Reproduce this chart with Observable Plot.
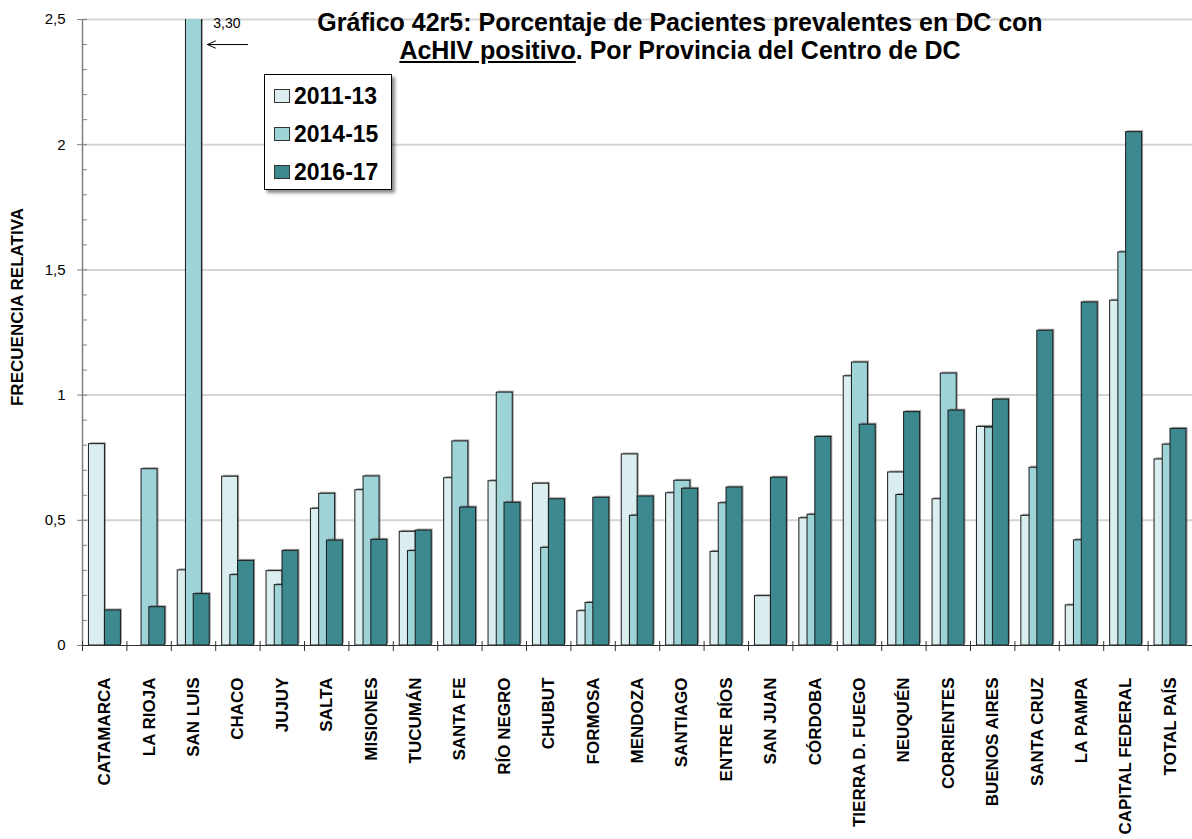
<!DOCTYPE html>
<html><head><meta charset="utf-8">
<script src="https://cdn.jsdelivr.net/npm/d3@7"></script>
<script src="https://cdn.jsdelivr.net/npm/@observablehq/plot@0.6"></script>
<style>
body{margin:0;background:#fff;font-family:"Liberation Sans",Arial,sans-serif;}
#wrap{position:relative;width:1192px;height:839px;overflow:hidden;background:#fff;}
#title{position:absolute;left:230px;width:900px;top:8px;text-align:center;font-weight:bold;font-size:25px;line-height:28px;color:#000;}
#ylabel{position:absolute;left:-132px;top:297px;width:300px;height:20px;line-height:20px;text-align:center;font-weight:bold;font-size:17px;transform:rotate(-90deg);color:#000;}
#legend{position:absolute;left:264px;top:74px;width:126px;height:114px;border:1px solid #000;background:#fff;box-shadow:3px 3px 3px rgba(0,0,0,0.45);}
.item{position:absolute;left:9px;height:28px;line-height:28px;font-weight:bold;font-size:23px;white-space:nowrap;}
.sw{display:inline-block;width:14px;height:12px;border:1px solid #333;vertical-align:middle;margin-right:4px;position:relative;top:-2px;}
</style></head>
<body>
<div id="wrap">
  <div id="chart"></div>
  <div id="title">Gráfico 42r5: Porcentaje de Pacientes prevalentes en DC con<br><u>AcHIV positivo</u>. Por Provincia del Centro de DC</div>
  <div id="ylabel">FRECUENCIA RELATIVA</div>
  <div id="legend"></div>
</div>
<script>
const provinces = ["CATAMARCA","LA RIOJA","SAN LUIS","CHACO","JUJUY","SALTA","MISIONES","TUCUMÁN","SANTA FE","RÍO NEGRO","CHUBUT","FORMOSA","MENDOZA","SANTIAGO","ENTRE RÍOS","SAN JUAN","CÓRDOBA","TIERRA D. FUEGO","NEUQUÉN","CORRIENTES","BUENOS AIRES","SANTA CRUZ","LA PAMPA","CAPITAL FEDERAL","TOTAL PAÍS"];
const v2011 = [0.804, null, 0.30, 0.674, 0.297, 0.546, 0.62, 0.454, 0.668, 0.656, 0.646, 0.137, 0.763, 0.608, 0.374, 0.197, 0.508, 1.075, 0.691, 0.584, 0.873, 0.518, 0.16, 1.377, 0.743];
const v2014 = [null, 0.704, 3.30, 0.281, 0.241, 0.606, 0.675, 0.377, 0.815, 1.010, 0.39, 0.17, 0.518, 0.658, 0.568, null, 0.522, 1.130, 0.601, 1.086, 0.870, 0.710, 0.420, 1.570, 0.802];
const v2016 = [0.14, 0.153, 0.205, 0.338, 0.378, 0.419, 0.422, 0.459, 0.551, 0.570, 0.584, 0.590, 0.595, 0.626, 0.631, 0.670, 0.833, 0.882, 0.932, 0.938, 0.982, 1.257, 1.370, 2.050, 0.865];
const seriesNames = ["2011-13", "2014-15", "2016-17"];
const seriesColors = ["#DAEEF0", "#9ED3D7", "#3C8A90"];
const yTicks = [0, 0.5, 1, 1.5, 2, 2.5];
const yMax = 2.5;

const seriesValues = [v2011, v2014, v2016];
const rows = seriesValues.flatMap((vals, k) =>
  vals.map((v, i) => ({i, k, province: provinces[i], series: seriesNames[k], v})).filter(r => r.v != null));
const cats = provinces.map((p, i) => ({i, p}));

// in-band layout (styling)
const offsets = [0.145, 0.33, 0.505];
const bw = 0.36;
const comma = d => String(d).replace(".", ",");

const W = 1192, H = 839, mL = 82, mR = 0, mT = 19, mB = 194;
const plotW = W - mL - mR;
const pxY = (H - mT - mB) / yMax; // pixels per y unit

const marks = [
  Plot.ruleY(yTicks.filter(d => d > 0), {stroke: "#d4d4d4", strokeWidth: 2})
];
seriesNames.forEach((s, k) => {
  const data = rows.filter(r => r.k === k);
  marks.push(Plot.rectY(data, {x1: r => r.i + offsets[k], x2: r => r.i + offsets[k] + bw, y: "v",
    fill: "#555", fillOpacity: 0.55, dx: 1.5, dy: -1.5, clip: true}));
  marks.push(Plot.rectY(data, {x1: r => r.i + offsets[k], x2: r => r.i + offsets[k] + bw, y: "v",
    fill: seriesColors[k], stroke: "#1a1a1a", strokeWidth: 1, clip: true}));
});
const clipped = rows.filter(r => r.v > yMax);
marks.push(
  Plot.ruleX([0], {stroke: "#808080", strokeWidth: 1.5}),
  Plot.ruleY([0], {stroke: "#333", strokeWidth: 1}),
  Plot.ruleY(d3.range(1, 26).map(d => d / 10), {stroke: "#808080", insetRight: plotW - 5}),
  Plot.axisY({ticks: yTicks, tickSize: 5, tickPadding: 12, tickFormat: comma, fontSize: 15, label: null, stroke: "#808080"}),
  Plot.ruleX(d3.range(provinces.length + 1), {x: d => d, y1: 4 / pxY, y2: -6 / pxY, stroke: "#333", strokeWidth: 1}),
  Plot.text(cats, {x: d => d.i + 0.5, y: 0, text: "p", rotate: -90, textAnchor: "end", dy: 32,
    fontSize: 17, fontWeight: "bold", fill: "#000"}),
  Plot.text(clipped, {x: r => r.i + offsets[r.k] + bw, y: yMax, text: r => r.v.toFixed(2).replace(".", ","),
    dx: 25, dy: 4, fontSize: 14, fill: "#000"}),
  Plot.arrow(clipped, {x1: r => r.i + offsets[r.k] + bw + 1.03, x2: r => r.i + offsets[r.k] + bw + 0.125,
    y1: yMax - 0.1, y2: yMax - 0.1, stroke: "#000", strokeWidth: 1, headLength: 13, headAngle: 48})
);

const chart = Plot.plot({
  width: W, height: H,
  marginLeft: mL, marginRight: mR, marginTop: mT, marginBottom: mB,
  style: {fontFamily: "'Liberation Sans', Arial, sans-serif", fontSize: "14px", color: "#000", background: "#fff", overflow: "visible"},
  x: {domain: [0, provinces.length], axis: null},
  y: {domain: [0, yMax], axis: null},
  marks
});
document.getElementById("chart").appendChild(chart);

const legend = document.getElementById("legend");
seriesNames.forEach((s, k) => {
  const it = document.createElement("div");
  it.className = "item";
  it.style.top = (7 + k * 38) + "px";
  const sw = document.createElement("span");
  sw.className = "sw";
  sw.style.background = seriesColors[k];
  it.appendChild(sw);
  it.appendChild(document.createTextNode(s));
  legend.appendChild(it);
});
</script>
</body></html>
